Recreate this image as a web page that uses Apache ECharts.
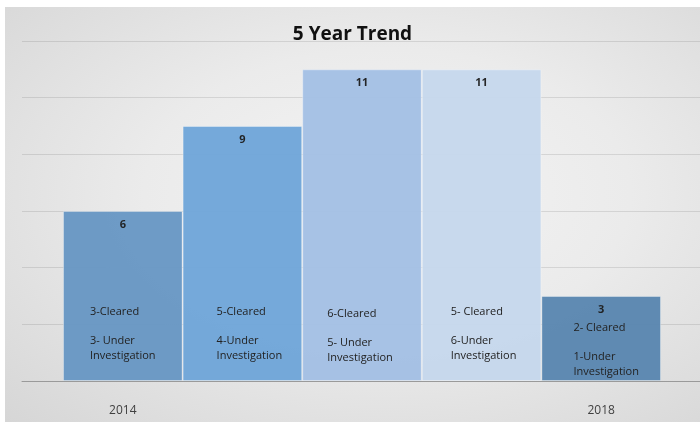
<!DOCTYPE html>
<html lang="en">
<head>
    <meta charset="UTF-8">
    <title>5 Year Trend</title>
    <script src="https://cdn.jsdelivr.net/npm/echarts@6/dist/echarts.min.js"></script>
    <style>
        html, body {
            margin: 0;
            padding: 0;
            background-color: #ffffff;
            overflow: hidden;
        }
        #chart {
            position: absolute;
            left: 5px;
            top: 7px;
            width: 695px;
            height: 415px;
            background: radial-gradient(ellipse at 55% 45%, #f4f4f4 0%, #ebebeb 45%, #d6d6d6 100%);
        }
    </style>
</head>
<body>
    <div id="chart"></div>

    <script>
        // chart values
        const years = ['2014', '2015', '2016', '2017', '2018'];
        const tickLabels = ['2014', '', '', '', '2018'];
        const totals = [6, 9, 11, 11, 3];
        const clearedText = ['3-Cleared', '5-Cleared', '6-Cleared', '5- Cleared', '2- Cleared'];
        const underText = ['3- Under\nInvestigation', '4-Under\nInvestigation', '5- Under\nInvestigation',
                           '6-Under\nInvestigation', '1-Under\nInvestigation'];

        // per-bar look
        const barColors = ['#6897c4', '#6fa5d8', '#a3c0e4', '#c6d7ec', '#5a86b0'];
        const noteOffsets = [[27, -18], [34, -18], [25, -16], [29, -18], [32, -2]];

        function initializeChart() {
            const chart = echarts.init(document.getElementById('chart'));
            const font = '"Open Sans", "DejaVu Sans", sans-serif';

            const barData = totals.map((v, i) => ({
                value: v,
                itemStyle: { color: barColors[i] }
            }));

            const noteData = totals.map((v, i) => {
                const underLines = underText[i].split('\n').map(s => '{t|' + s + '}').join('\n');
                return {
                    value: v,
                    label: {
                        offset: noteOffsets[i],
                        formatter: '{t|' + clearedText[i] + '}\n{t|}\n' + underLines
                    }
                };
            });

            chart.setOption({
                animation: false,
                title: {
                    text: '5 Year Trend',
                    left: 'center',
                    top: 13,
                    textStyle: { fontFamily: font, fontSize: 19, fontWeight: 'bold', color: '#111' }
                },
                grid: [
                    // wide grid only for the horizontal lines
                    { left: 17, right: 0, top: 34, bottom: 41 },
                    // bars
                    { left: 58, right: 39, top: 34, bottom: 41 }
                ],
                xAxis: [
                    {
                        gridIndex: 0, type: 'value', min: 0, max: 1,
                        axisLine: { show: true, onZero: false, lineStyle: { color: '#9a9a9a', width: 1 } },
                        axisTick: { show: false }, axisLabel: { show: false }, splitLine: { show: false },
                        z: 4
                    },
                    {
                        gridIndex: 1, type: 'category', data: years,
                        axisLine: { show: false }, axisTick: { show: false },
                        axisLabel: {
                            interval: 0, margin: 24, fontSize: 12, fontFamily: font, color: '#404040',
                            formatter: (val, idx) => tickLabels[idx]
                        }
                    }
                ],
                yAxis: [
                    {
                        gridIndex: 0, type: 'value', min: 0, max: 12, interval: 2,
                        axisLine: { show: false }, axisTick: { show: false }, axisLabel: { show: false },
                        splitLine: { lineStyle: { color: 'rgba(0,0,0,0.1)', width: 1 } }
                    },
                    {
                        gridIndex: 1, type: 'value', min: 0, max: 12, interval: 2,
                        axisLine: { show: false }, axisTick: { show: false }, axisLabel: { show: false },
                        splitLine: { show: false }
                    }
                ],
                series: [
                    {
                        name: 'Total',
                        type: 'bar',
                        xAxisIndex: 1, yAxisIndex: 1,
                        data: barData,
                        barCategoryGap: '0%',
                        itemStyle: { borderColor: 'rgba(255,255,255,0.35)', borderWidth: 1, opacity: 0.96 },
                        label: {
                            show: true,
                            position: 'insideTop',
                            distance: 8,
                            fontFamily: font, fontSize: 11, fontWeight: 'bold', color: '#1e1e1e'
                        }
                    },
                    {
                        name: 'Notes',
                        type: 'bar',
                        xAxisIndex: 1, yAxisIndex: 1,
                        data: noteData,
                        barGap: '-100%',
                        barCategoryGap: '0%',
                        silent: true,
                        itemStyle: { color: 'rgba(0,0,0,0)' },
                        label: {
                            show: true,
                            position: 'insideBottomLeft',
                            distance: 0,
                            align: 'left',
                            rich: {
                                t: { fontFamily: font, fontSize: 11, color: '#222', lineHeight: 14.5 }
                            }
                        }
                    }
                ]
            });
        }

        initializeChart();
    </script>
</body>
</html>
